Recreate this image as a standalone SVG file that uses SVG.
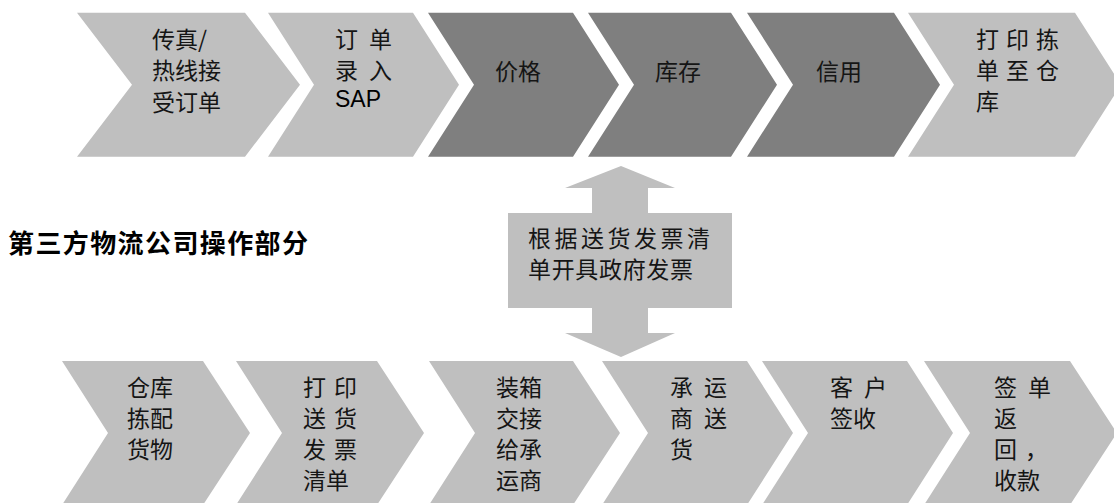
<svg xmlns="http://www.w3.org/2000/svg" width="1114" height="503" viewBox="0 0 1114 503">
<style>
.light{fill:#BFBFBF}
.dark{fill:#7F7F7F}
.t{font-family:"Noto Sans CJK SC","Noto Sans",sans-serif;font-size:23px;fill:#151515}
.lat{font-family:"Liberation Sans",Arial,sans-serif;font-size:23px;fill:#000}
.box{font-family:"Noto Sans CJK SC","Noto Sans",sans-serif;font-size:23px;fill:#151515}
.title{font-family:"Noto Sans CJK SC","Noto Sans",sans-serif;font-size:26px;font-weight:700;fill:#000}
</style>
<rect width="1114" height="503" fill="#FFFFFF"/>

<g id="connectors">
  <polygon class="light" points="621,166 675,188 648,188 648,214 592,214 592,188 565,188"/>
  <polygon class="light" points="592,307 648,307 648,333 675,333 621,357 565,333 592,333"/>
</g>

<g id="top-1">
  <polygon class="light" points="77,12.7 245,12.7 300,84.7 245,156.7 77,156.7 132,84.7"/>
  <text class="t" x="152" y="47.5">传真/</text>
  <text class="t" x="152" y="79">热线接</text>
  <text class="t" x="152" y="110.5">受订单</text>
</g>
<g id="top-2">
  <polygon class="light" points="268,12.7 413,12.7 459,84.7 413,156.7 268,156.7 314,84.7"/>
  <text class="t" x="335 358 369" y="47.5">订 单</text>
  <text class="t" x="335 358 369" y="79">录 入</text>
  <text class="lat" x="335" y="107">SAP</text>
</g>
<g id="top-3">
  <polygon class="dark" points="428,12.7 573,12.7 619,84.7 573,156.7 428,156.7 474,84.7"/>
  <text class="t" x="495" y="80">价格</text>
</g>
<g id="top-4">
  <polygon class="dark" points="588,12.7 731,12.7 777,84.7 731,156.7 588,156.7 634,84.7"/>
  <text class="t" x="655" y="80">库存</text>
</g>
<g id="top-5">
  <polygon class="dark" points="747,12.7 894,12.7 940,84.7 894,156.7 747,156.7 793,84.7"/>
  <text class="t" x="816" y="80">信用</text>
</g>
<g id="top-6">
  <polygon class="light" points="908,12.7 1075,12.7 1121,84.7 1075,156.7 908,156.7 954,84.7"/>
  <text class="t" x="976 999 1006 1029 1036" y="47.5">打 印 拣</text>
  <text class="t" x="976 999 1006 1029 1036" y="78.5">单 至 仓</text>
  <text class="t" x="976" y="109.5">库</text>
</g>

<g id="title">
  <text class="title" x="8" y="253" textLength="300" lengthAdjust="spacing">第三方物流公司操作部分</text>
</g>

<g id="invoice">
  <rect class="light" x="508" y="213" width="224" height="95"/>
  <text class="box" x="528" y="246.5" textLength="182" lengthAdjust="spacing">根据送货发票清</text>
  <text class="box" x="528" y="277.5" textLength="165" lengthAdjust="spacing">单开具政府发票</text>
</g>

<g id="bottom-1">
  <polygon class="light" points="62,361 203,361 250,433 203,505 62,505 108,433"/>
  <text class="t" x="127" y="395.5">仓库</text>
  <text class="t" x="127" y="426.5">拣配</text>
  <text class="t" x="127" y="457.5">货物</text>
</g>
<g id="bottom-2">
  <polygon class="light" points="236,361 377,361 424,433 377,505 236,505 282,433"/>
  <text class="t" x="303 326 334" y="395.5">打 印</text>
  <text class="t" x="303 326 334" y="426.5">送 货</text>
  <text class="t" x="303 326 334" y="457.5">发 票</text>
  <text class="t" x="303" y="488.5">清单</text>
</g>
<g id="bottom-3">
  <polygon class="light" points="429,361 573,361 620,433 573,505 429,505 475,433"/>
  <text class="t" x="496" y="395.5">装箱</text>
  <text class="t" x="496" y="426.5">交接</text>
  <text class="t" x="496" y="457.5">给承</text>
  <text class="t" x="496" y="488.5">运商</text>
</g>
<g id="bottom-4">
  <polygon class="light" points="602,361 747,361 793,433 747,505 602,505 648,433"/>
  <text class="t" x="670 693 704" y="395.5">承 运</text>
  <text class="t" x="670 693 704" y="426.5">商 送</text>
  <text class="t" x="670" y="457.5">货</text>
</g>
<g id="bottom-5">
  <polygon class="light" points="762,361 907,361 953,433 907,505 762,505 808,433"/>
  <text class="t" x="830 853 864" y="395.5">客 户</text>
  <text class="t" x="830" y="426.5">签收</text>
</g>
<g id="bottom-6">
  <polygon class="light" points="924,361 1070,361 1117,433 1070,505 924,505 970,433"/>
  <text class="t" x="994 1017 1028" y="395.5">签 单</text>
  <text class="t" x="994" y="426.5">返</text>
  <text class="t" x="994 1017 1025" y="457.5">回 ，</text>
  <text class="t" x="994" y="488.5">收款</text>
</g>
</svg>
